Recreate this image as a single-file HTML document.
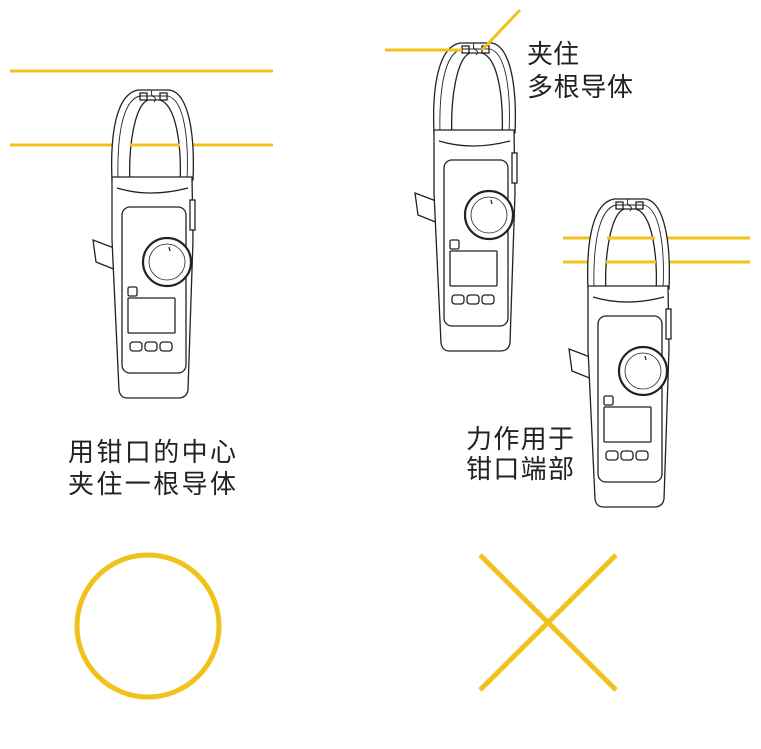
<!DOCTYPE html>
<html><head><meta charset="utf-8"><style>
html,body{margin:0;padding:0;background:#fff;}
svg{display:block}
text{font-family:"Liberation Sans","Noto Sans CJK SC",sans-serif;font-size:26px;fill:#222}
</style></head><body>
<svg width="761" height="749" viewBox="0 0 761 749" xmlns="http://www.w3.org/2000/svg">
<defs>
<g id="m" fill="#fff" stroke="#222" stroke-width="1.3">
  <path d="M24,168 L3,160 L6,182 L26,190 Z"/>
  <path d="M22,100 C20,55 26,14 48,10 L80,10 C99,14 105,55 103,100 Z"/>
  <path d="M28,100 C27,58 32,20 50,16 L78,16 C94,20 99,58 97,100" fill="none" stroke-width="0.9"/>
  <path d="M40,105 C38,65 45,25 58,20 L70,20 C86,25 92,65 90,105 Z"/>
  <rect x="50" y="13" width="7" height="7" fill="none"/>
  <rect x="70" y="13" width="7" height="7" fill="none"/>
  <path d="M62,10 Q60,15 64,17 Q67,19 64,22" fill="none" stroke-width="0.9"/>
  <path d="M22,97 L102,97 L103,160 L98,310 C97,316 93,318 88,318 L38,318 C33,318 30,316 29,310 L22,160 Z"/>
  <path d="M27,108 Q60,118 98,108" fill="none"/>
  <rect x="100" y="120" width="5" height="30" fill="#fff"/>
  <rect x="32" y="127" width="64" height="166" rx="8"/>
  <circle cx="77" cy="182" r="24" stroke-width="2.2"/>
  <circle cx="77" cy="182" r="18" stroke-width="0.8"/>
  <line x1="79" y1="167" x2="80" y2="171"/>
  <rect x="38" y="207" width="9" height="9" rx="1.5"/>
  <rect x="38" y="218" width="47" height="35" rx="1"/>
  <rect x="40" y="262" width="12" height="9" rx="3"/>
  <rect x="55" y="262" width="12" height="9" rx="3"/>
  <rect x="70" y="262" width="12" height="9" rx="3"/>
</g>
</defs>
<g stroke="#f1c21b" stroke-width="3" fill="none">
  <line x1="10" y1="71" x2="273" y2="71"/>
  <line x1="10" y1="145" x2="273" y2="145"/>
</g>
<use href="#m" transform="translate(90,80)"/>
<line x1="130" y1="145" x2="180" y2="145" stroke="#f1c21b" stroke-width="3"/>

<use href="#m" transform="translate(412,33)"/>
<g stroke="#f1c21b" stroke-width="3" fill="none">
  <line x1="385" y1="50" x2="462" y2="50"/>
  <line x1="520" y1="10" x2="482" y2="50"/>
</g>

<g stroke="#f1c21b" stroke-width="3" fill="none">
  <line x1="563" y1="238" x2="750" y2="238"/>
  <line x1="563" y1="262" x2="750" y2="262"/>
</g>
<use href="#m" transform="translate(566,189)"/>
<g stroke="#f1c21b" stroke-width="3" fill="none">
  <line x1="607" y1="238" x2="655" y2="238"/>
  <line x1="606" y1="262" x2="656" y2="262"/>
</g>

<text x="68" y="461" textLength="168">用钳口的中心</text>
<text x="68" y="493" textLength="168">夹住一根导体</text>
<text x="527" y="63">夹住</text>
<text x="527" y="96" textLength="106">多根导体</text>
<text x="466" y="448" textLength="108">力作用于</text>
<text x="466" y="478" textLength="108">钳口端部</text>

<circle cx="148" cy="626" r="71" fill="none" stroke="#f1c21b" stroke-width="5"/>
<g stroke="#f1c21b" stroke-width="5">
  <line x1="480" y1="555" x2="616" y2="690"/>
  <line x1="616" y1="555" x2="480" y2="690"/>
</g>
</svg>
</body></html>
